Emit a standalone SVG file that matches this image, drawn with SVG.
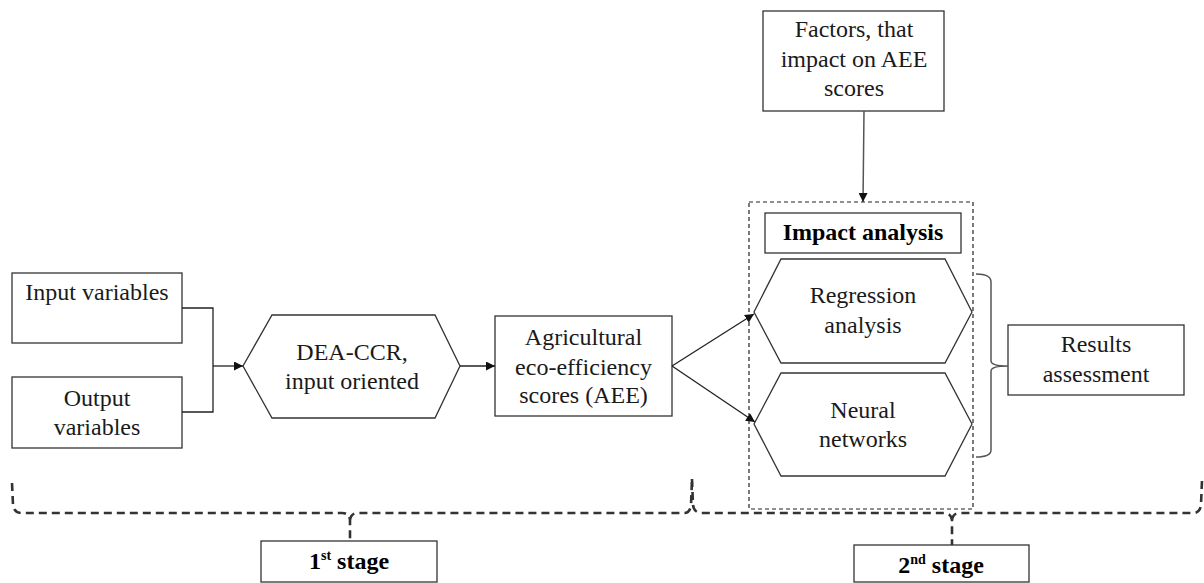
<svg xmlns="http://www.w3.org/2000/svg" width="1204" height="583" viewBox="0 0 1204 583">
<style>
text{font-family:'Liberation Serif','DejaVu Serif',serif}
.box{fill:#fff;stroke:#333;stroke-width:1.3}
.t{font-size:24px;fill:#1a1a1a;text-anchor:middle}
.b{font-weight:bold;fill:#000}
.ln{fill:none;stroke:#222;stroke-width:1.3}
.gl{fill:none;stroke:#555;stroke-width:1.5}
.brace{fill:none;stroke:#333;stroke-width:2.6;stroke-dasharray:8 5}
.dash{fill:none;stroke:#222;stroke-width:1.2;stroke-dasharray:4 3}
</style>
<defs>
<marker id="arr" viewBox="0 0 10 10" refX="10" refY="5" markerWidth="9" markerHeight="9" markerUnits="userSpaceOnUse" orient="auto">
<path d="M0,0 L10,5 L0,10 z" fill="#111"/>
</marker>
</defs>
<rect width="1204" height="583" fill="#fff"/>

<g id="impact-group">
<rect class="dash" x="749" y="202" width="224" height="307"/>
</g>

<g id="input">
<rect class="box" x="12" y="273" width="170" height="70"/>
<text class="t" x="97" y="300" font-family="Liberation Serif">Input variables</text>
</g>
<g id="output">
<rect class="box" x="12" y="377" width="170" height="71"/>
<text class="t" x="97" y="406" font-family="Liberation Serif">Output</text>
<text class="t" x="97" y="435" font-family="Liberation Serif">variables</text>
</g>
<g id="dea">
<polygon class="box" points="243,366 272,315 435,315 460,366 435,418 272,418"/>
<text class="t" x="352" y="360" font-family="Liberation Serif">DEA-CCR,</text>
<text class="t" x="352" y="389" font-family="Liberation Serif">input oriented</text>
</g>
<g id="aee">
<rect class="box" x="495" y="316" width="177" height="100"/>
<text class="t" x="583.5" y="345" font-family="Liberation Serif">Agricultural</text>
<text class="t" x="583.5" y="375" font-family="Liberation Serif">eco-efficiency</text>
<text class="t" x="583.5" y="403" font-family="Liberation Serif">scores (AEE)</text>
</g>
<g id="factors">
<rect class="box" x="763" y="11" width="181" height="100"/>
<text class="t" x="854" y="37" font-family="Liberation Serif">Factors, that</text>
<text class="t" x="854" y="67" font-family="Liberation Serif">impact on AEE</text>
<text class="t" x="854" y="96" font-family="Liberation Serif">scores</text>
</g>
<g id="impact">
<rect class="box" x="765" y="213" width="196" height="40"/>
<text class="t b" x="863" y="240" font-family="Liberation Serif">Impact analysis</text>
</g>
<g id="regression">
<polygon class="box" points="754,312 781,259 945,259 972,312 945,363 781,363"/>
<text class="t" x="863" y="303" font-family="Liberation Serif">Regression</text>
<text class="t" x="863" y="333" font-family="Liberation Serif">analysis</text>
</g>
<g id="neural">
<polygon class="box" points="754,424 781,373 945,373 972,424 945,476 781,476"/>
<text class="t" x="863" y="418" font-family="Liberation Serif">Neural</text>
<text class="t" x="863" y="447" font-family="Liberation Serif">networks</text>
</g>
<g id="results">
<rect class="box" x="1008" y="325" width="176" height="70"/>
<text class="t" x="1096" y="352" font-family="Liberation Serif">Results</text>
<text class="t" x="1096" y="382" font-family="Liberation Serif">assessment</text>
</g>
<g id="stage1">
<rect class="box" x="261" y="541" width="176" height="41"/>
<text class="t b" x="349" y="569" font-family="Liberation Serif">1<tspan font-size="14" dy="-9">st</tspan><tspan dy="9"> stage</tspan></text>
</g>
<g id="stage2">
<rect class="box" x="854" y="545" width="175" height="37"/>
<text class="t b" x="941" y="573" font-family="Liberation Serif">2<tspan font-size="14" dy="-9">nd</tspan><tspan dy="9"> stage</tspan></text>
</g>

<g id="connectors">
<path class="ln" d="M182,308 H213 V412 H182"/>
<path class="ln" d="M213,366 H243" marker-end="url(#arr)"/>
<path class="ln" d="M460,366 H495" marker-end="url(#arr)"/>
<path class="ln" d="M672,366 L754,314" marker-end="url(#arr)"/>
<path class="ln" d="M672,366 L755,422" marker-end="url(#arr)"/>
<path class="gl" d="M864,111 L863,202" marker-end="url(#arr)"/>
<path class="gl" d="M976,274 Q991,274 991,282 V361 Q991,366 1008,366 Q991,366 991,371 V450 Q991,457 976,457"/>
<path class="brace" d="M12,483 L13,505 Q14,513 22,513 L342,513 Q349,513 350,520 L350,541 M350,520 Q351,513 358,513 L684,513 Q690,513 691,505 L692,479"/>
<path class="brace" d="M692,479 L693,505 Q694,513 702,513 L944,513 Q951,513 952,520 L952,545 M952,520 Q953,513 960,513 L1193,513 Q1200,513 1201,505 L1202,480"/>
</g>
</svg>
